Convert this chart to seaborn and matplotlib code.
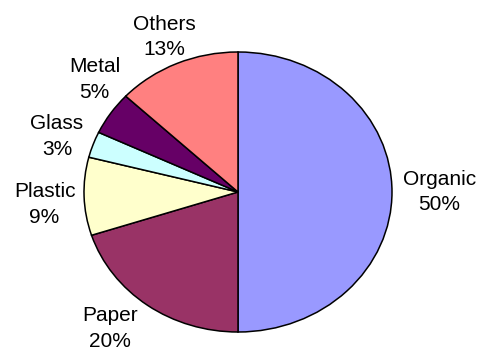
import matplotlib
matplotlib.use('Agg')
import matplotlib.pyplot as plt
import seaborn as sns
import numpy as np
from matplotlib.transforms import offset_copy

categories = ['Organic', 'Paper', 'Plastic', 'Glass', 'Metal', 'Others']
values = [50, 20, 9, 3, 5, 13]
pct_labels = ['50%', '20%', '9%', '3%', '5%', '13%']
colors = ['#9999FF', '#993366', '#FFFFCC', '#CCFFFF', '#660066', '#FF8080']

# label nudges in pixels (dx right, dy up) - styling only
label_nudge = {'Organic': (0, 0), 'Paper': (-15, 3), 'Plastic': (2, -7),
               'Glass': (-1, -3), 'Metal': (14, 16), 'Others': (4, -3)}

sns.set_theme(style='white')
plt.rcParams['font.family'] = ['Liberation Sans', 'DejaVu Sans']

W, H = 487, 354
fig = plt.figure(figsize=(W / 100, H / 100), dpi=100)
fig.patch.set_facecolor('white')
ax = fig.add_axes([84 / W, (H - 332) / H, 308 / W, 280 / H])
wedges, _ = ax.pie(values, colors=sns.color_palette(colors), startangle=90,
                   counterclock=False,
                   wedgeprops=dict(edgecolor='black', linewidth=1.1))
for w in wedges:
    w.set_clip_on(False)
ax.set_aspect('auto')
ax.set_xlim(-1, 1)
ax.set_ylim(-1, 1)
ax.axis('off')

fig.canvas.draw()
renderer = fig.canvas.get_renderer()
d = 1.07
for w, cat, p in zip(wedges, categories, pct_labels):
    th = np.deg2rad((w.theta1 + w.theta2) / 2)
    c, s = np.cos(th), np.sin(th)
    t = ax.text(d * c, d * s, f'{cat}\n{p}', ha='center', va='center',
                multialignment='center', fontsize=15, linespacing=1.45,
                color='black', clip_on=False)
    bb = t.get_window_extent(renderer)
    nx, ny = label_nudge[cat]
    t.set_transform(offset_copy(ax.transData, fig=fig,
                                x=bb.width / 2 * c + nx,
                                y=bb.height / 2 * s + ny,
                                units='dots'))

fig.savefig('out.png', dpi=100)
